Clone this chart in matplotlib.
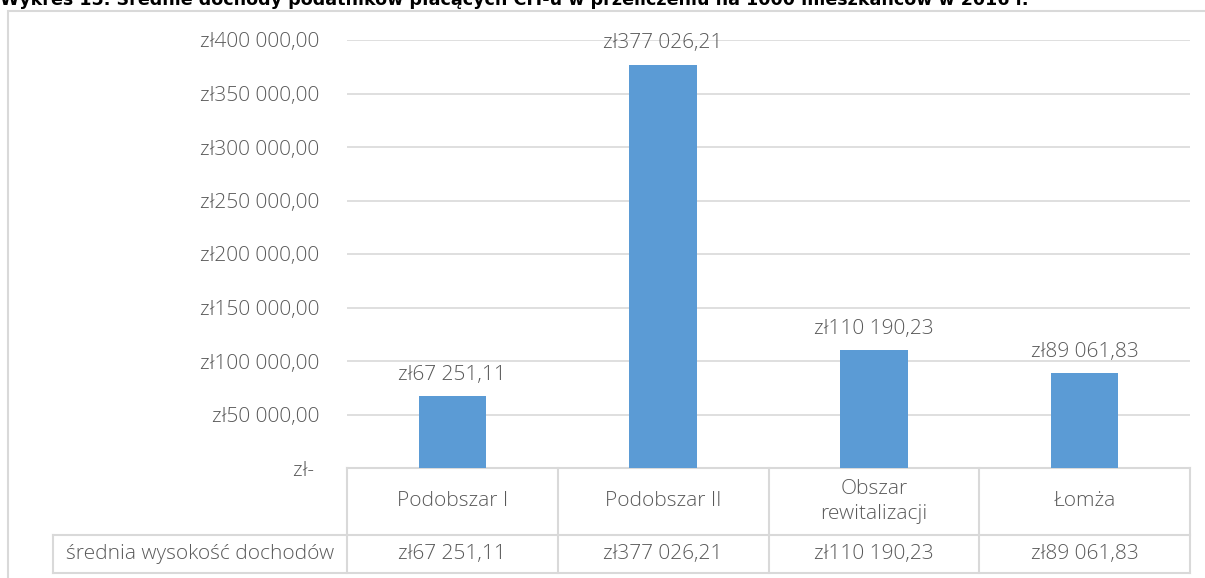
import matplotlib.pyplot as plt
from matplotlib.patches import Rectangle

categories = ['Podobszar I', 'Podobszar II', 'Obszar\nrewitalizacji', 'Łomża']
values = [67251.11, 377026.21, 110190.23, 89061.83]
row_label = 'średnia wysokość dochodów'
yticks = [0, 50000, 100000, 150000, 200000, 250000, 300000, 350000, 400000]
title = ('Wykres 15. Średnie dochody podatników płacących CIT-u '
         'w przeliczeniu na 1000 mieszkańców w 2016 r.')

bar_color = '#5B9BD5'
txt = '#595959'
grid = '#D9D9D9'
font = 'Open Sans'
fs = 15


def zl(v):
    # format like Excel accounting: zł67 251,11
    if v == 0:
        return 'zł- '
    s = f'{v:,.2f}'.replace(',', ' ').replace('.', ',')
    return 'zł' + s


W, H = 1205, 578
fig = plt.figure(figsize=(W / 100, H / 100), dpi=100)

# outer chart border
fig.patches.append(Rectangle((8 / W, -0.05), 1.2, 1 - 11 / H + 0.05,
                             transform=fig.transFigure, fill=False,
                             edgecolor=grid, lw=1.5))

fig.text(0.0, 1 - 5 / H, title, fontsize=12.6, fontweight='bold',
         color='black', va='baseline', ha='left', family='DejaVu Sans')

left, right, top, bottom = 347, 1190, 40, 468
ax = fig.add_axes([left / W, 1 - bottom / H, (right - left) / W, (bottom - top) / H])

x = list(range(len(categories)))
ax.bar(x, values, width=0.32, color=bar_color, zorder=3)
for xi, v in zip(x, values):
    ax.annotate(zl(v), (xi, v), xytext=(0, 8), textcoords='offset points',
                ha='center', va='bottom', fontsize=fs, color=txt, family=font,
                fontweight='light')

ax.set_xlim(-0.5, len(categories) - 0.5)
ax.set_ylim(0, 400000)
ax.set_yticks(yticks)
ax.set_yticklabels([zl(v) for v in yticks], fontsize=fs, color=txt, family=font,
                   fontweight='light')
ax.tick_params(axis='y', length=0, pad=20)
ax.set_xticks([])
ax.grid(axis='y', color=grid, lw=1.2, zorder=0)
for s in ['left', 'right', 'top']:
    ax.spines[s].set_visible(False)
ax.spines['bottom'].set_color(grid)
ax.spines['bottom'].set_linewidth(1.5)

# data table below the plot
tr = ax.transAxes
h = bottom - top
r1 = -(535 - bottom) / h
r2 = -(573 - bottom) / h
x0 = -(left - 53) / (right - left)
n = len(categories)
lk = dict(color=grid, lw=1.5, transform=tr, clip_on=False)
ax.plot([x0, 1], [r1, r1], **lk)
ax.plot([x0, 1], [r2, r2], **lk)
ax.plot([x0, x0], [r1, r2], **lk)
for i in range(n + 1):
    ax.plot([i / n, i / n], [0, r2], **lk)
tk = dict(transform=tr, ha='center', va='center', fontsize=fs, color=txt,
          family=font, fontweight='light')
for i, (c, v) in enumerate(zip(categories, values)):
    cx = (i + 0.5) / n
    ax.text(cx, r1 / 2, c, linespacing=1.4, **tk)
    ax.text(cx, (r1 + r2) / 2, zl(v), **tk)
ax.text(x0 / 2, (r1 + r2) / 2, row_label, **tk)

fig.savefig('out.png', dpi=100)
